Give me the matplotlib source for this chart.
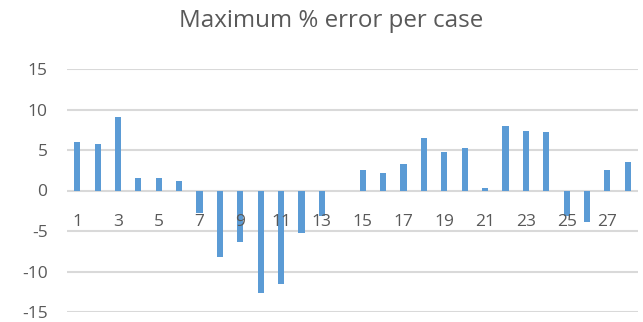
import matplotlib
matplotlib.use("Agg")
import matplotlib.pyplot as plt
import matplotlib.transforms as mtransforms

plt.rcParams['font.family'] = ['Open Sans', 'DejaVu Sans']

cases = list(range(1, 29))
max_error = [6.0, 5.8, 9.1, 1.5, 1.5, 1.2, -2.8, -8.15, -6.4, -12.7,
             -11.6, -5.2, -3.1, 0.0, 2.5, 2.1, 3.3, 6.5, 4.75, 5.2,
             0.25, 8.0, 7.4, 7.25, -3.1, -3.9, 2.5, 3.5]
y_ticks = [-15, -10, -5, 0, 5, 10, 15]
title = "Maximum % error per case"

bar_color = "#5B9BD5"
grid_color = "#D9D9D9"
text_color = "#595959"

fig = plt.figure(figsize=(6.43, 3.22), dpi=100)
ax = fig.add_axes([67 / 643, 10 / 322, 571 / 643, 243 / 322])

ax.bar(cases, max_error, width=0.3, color=bar_color, zorder=3)

ax.set_xlim(0.5, 28.5)
ax.set_ylim(-15, 15)
ax.set_yticks(y_ticks)
ax.set_yticklabels([str(v) for v in y_ticks])
ax.grid(axis='y', color=grid_color, linewidth=1.5, zorder=0)
ax.set_axisbelow(True)
for s in ax.spines.values():
    s.set_visible(False)
ax.tick_params(axis='y', length=0, pad=14, labelsize=12.5, labelcolor=text_color)

# category labels sit just under the zero line, every other case
ax.set_xticks([])
trans = mtransforms.blended_transform_factory(ax.transData, ax.transData)
offset = mtransforms.ScaledTranslation(0, -17 / 72, fig.dpi_scale_trans)
for c in cases[::2]:
    ax.text(c, 0, str(c), transform=trans + offset, ha='center', va='top',
            fontsize=12.5, color=text_color)

fig.text(331 / 643, 1 - 21 / 322, title, ha='center', va='center',
         fontsize=17.4, color=text_color)

fig.savefig("out.png", dpi=100)
